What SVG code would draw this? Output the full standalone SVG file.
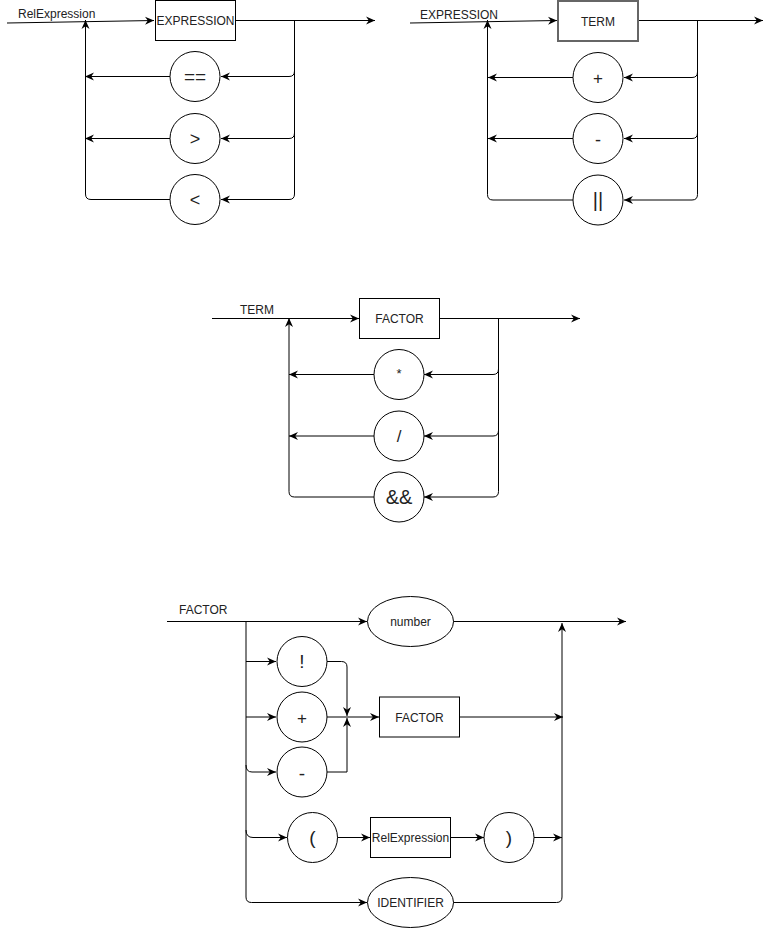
<svg xmlns="http://www.w3.org/2000/svg" width="773" height="928" viewBox="0 0 773 928">
  <style>
    .bg { fill: #ffffff; }
    .box { fill: #ffffff; stroke: #000000; stroke-width: 1; }
    .box-grey { fill: #ffffff; stroke: #666666; stroke-width: 2; }
    .term { fill: #ffffff; stroke: #000000; stroke-width: 1; }
    .wire { fill: none; stroke: #000000; stroke-width: 1; }
    .lbl { font-family: "Liberation Sans", Arial, sans-serif; font-size: 12px; fill: #222222; }
    .mid { text-anchor: middle; }
    .sym { font-family: "Liberation Sans", Arial, sans-serif; fill: #222222; text-anchor: middle; }
  </style>
  <defs>
    <marker id="arrow" viewBox="0 0 9 9" refX="9" refY="4.5" markerWidth="9" markerHeight="9" markerUnits="userSpaceOnUse" orient="auto">
      <path d="M0,0.5 L9,4.5 L0,8.5 L2.8,4.5 z" fill="#000000"/>
    </marker>
  </defs>
  <rect class="bg" x="0" y="0" width="773" height="928"/>

  <!-- ===== RelExpression rule ===== -->
  <g id="rel-connectors">
    <path class="wire" d="M7,23 L154,20.5" marker-end="url(#arrow)"/>
    <path class="wire" d="M235,20.5 L375,20.5" marker-end="url(#arrow)"/>
    <path class="wire" d="M294.5,20.5 L294.5,71 Q294.5,76.5 289,76.5 L221,76.5" marker-end="url(#arrow)"/>
    <path class="wire" d="M294.5,20.5 L294.5,133 Q294.5,138.5 289,138.5 L221,138.5" marker-end="url(#arrow)"/>
    <path class="wire" d="M294.5,20.5 L294.5,194 Q294.5,199.5 289,199.5 L221,199.5" marker-end="url(#arrow)"/>
    <path class="wire" d="M170,76.5 L85,76.5" marker-end="url(#arrow)"/>
    <path class="wire" d="M170,138.5 L85,138.5" marker-end="url(#arrow)"/>
    <path class="wire" d="M170,199.5 L91,199.5 Q85.5,199.5 85.5,194 L85.5,20" marker-end="url(#arrow)"/>
  </g>
  <text class="lbl" x="18" y="18">RelExpression</text>
  <g id="rel-expression">
    <rect class="box" x="155.5" y="0.5" width="80" height="40"/>
    <text class="lbl mid" x="195.5" y="25">EXPRESSION</text>
  </g>
  <g id="rel-eq">
    <circle class="term" cx="195" cy="76.5" r="25"/>
    <text class="sym" x="195" y="83" font-size="19">==</text>
  </g>
  <g id="rel-gt">
    <circle class="term" cx="195" cy="138.5" r="25"/>
    <text class="sym" x="195" y="145" font-size="18">&gt;</text>
  </g>
  <g id="rel-lt">
    <circle class="term" cx="195" cy="199.5" r="25"/>
    <text class="sym" x="195" y="206" font-size="18">&lt;</text>
  </g>

  <!-- ===== EXPRESSION rule ===== -->
  <g id="expr-connectors">
    <path class="wire" d="M410,23 L557,20.5" marker-end="url(#arrow)"/>
    <path class="wire" d="M638,20.5 L763,20.5" marker-end="url(#arrow)"/>
    <path class="wire" d="M697.5,20.5 L697.5,72 Q697.5,77.5 692,77.5 L624,77.5" marker-end="url(#arrow)"/>
    <path class="wire" d="M697.5,20.5 L697.5,133 Q697.5,138.5 692,138.5 L624,138.5" marker-end="url(#arrow)"/>
    <path class="wire" d="M697.5,20.5 L697.5,194.5 Q697.5,200 692,200 L624,200" marker-end="url(#arrow)"/>
    <path class="wire" d="M573,77.5 L488,77.5" marker-end="url(#arrow)"/>
    <path class="wire" d="M573,138.5 L488,138.5" marker-end="url(#arrow)"/>
    <path class="wire" d="M573,200 L493,200 Q487.5,200 487.5,194.5 L487.5,20" marker-end="url(#arrow)"/>
  </g>
  <text class="lbl" x="420" y="19">EXPRESSION</text>
  <g id="expr-term">
    <rect class="box-grey" x="558" y="1" width="80" height="40"/>
    <text class="lbl mid" x="598" y="26">TERM</text>
  </g>
  <g id="expr-plus">
    <circle class="term" cx="598" cy="77.5" r="25"/>
    <text class="sym" x="598" y="84" font-size="17">+</text>
  </g>
  <g id="expr-minus">
    <circle class="term" cx="598" cy="138.5" r="25"/>
    <text class="sym" x="598" y="146" font-size="18">-</text>
  </g>
  <g id="expr-or">
    <circle class="term" cx="598" cy="200" r="25"/>
    <text class="sym" x="598" y="207" font-size="20">||</text>
  </g>

  <!-- ===== TERM rule ===== -->
  <g id="term-connectors">
    <path class="wire" d="M212,318.5 L359,318.5" marker-end="url(#arrow)"/>
    <path class="wire" d="M440,318.5 L580,318.5" marker-end="url(#arrow)"/>
    <path class="wire" d="M498.5,318.5 L498.5,369 Q498.5,374.5 493,374.5 L424,374.5" marker-end="url(#arrow)"/>
    <path class="wire" d="M498.5,318.5 L498.5,430.5 Q498.5,436 493,436 L424,436" marker-end="url(#arrow)"/>
    <path class="wire" d="M498.5,318.5 L498.5,491.5 Q498.5,497 493,497 L424,497" marker-end="url(#arrow)"/>
    <path class="wire" d="M374,374.5 L289,374.5" marker-end="url(#arrow)"/>
    <path class="wire" d="M374,436 L289,436" marker-end="url(#arrow)"/>
    <path class="wire" d="M374,497 L294.5,497 Q289,497 289,491.5 L289,318" marker-end="url(#arrow)"/>
  </g>
  <text class="lbl" x="240" y="314">TERM</text>
  <g id="term-factor">
    <rect class="box" x="359.5" y="298.5" width="80" height="40"/>
    <text class="lbl mid" x="399.5" y="323">FACTOR</text>
  </g>
  <g id="term-mul">
    <circle class="term" cx="399" cy="374.5" r="25"/>
    <text class="sym" x="399" y="378" font-size="13">*</text>
  </g>
  <g id="term-div">
    <circle class="term" cx="399" cy="436" r="25"/>
    <text class="sym" x="399" y="442" font-size="17">/</text>
  </g>
  <g id="term-and">
    <circle class="term" cx="399" cy="497" r="25"/>
    <text class="sym" x="399" y="504" font-size="20">&amp;&amp;</text>
  </g>

  <!-- ===== FACTOR rule ===== -->
  <g id="factor-connectors">
    <path class="wire" d="M167,621.5 L367,621.5" marker-end="url(#arrow)"/>
    <path class="wire" d="M453,621.5 L626,621.5" marker-end="url(#arrow)"/>
    <path class="wire" d="M246,621.5 L246,897 Q246,902.5 251.5,902.5 L367,902.5" marker-end="url(#arrow)"/>
    <path class="wire" d="M246,661.5 L276,661.5" marker-end="url(#arrow)"/>
    <path class="wire" d="M246,717 L276,717" marker-end="url(#arrow)"/>
    <path class="wire" d="M246,765 Q246,772 252,772 L276,772" marker-end="url(#arrow)"/>
    <path class="wire" d="M246,830 Q246,837.5 253,837.5 L287,837.5" marker-end="url(#arrow)"/>
    <path class="wire" d="M327,661.5 L341.5,661.5 Q347,661.5 347,667 L347,716" marker-end="url(#arrow)"/>
    <path class="wire" d="M327,772 L347,772 L347,718" marker-end="url(#arrow)"/>
    <path class="wire" d="M327,717 L379,717" marker-end="url(#arrow)"/>
    <path class="wire" d="M459,717 L563,717" marker-end="url(#arrow)"/>
    <path class="wire" d="M337,837.5 L370,837.5" marker-end="url(#arrow)"/>
    <path class="wire" d="M450,837.5 L484,837.5" marker-end="url(#arrow)"/>
    <path class="wire" d="M534,837.5 L562,837.5" marker-end="url(#arrow)"/>
    <path class="wire" d="M453,902.5 L556.5,902.5 Q562,902.5 562,897 L562,623" marker-end="url(#arrow)"/>
  </g>
  <text class="lbl" x="179" y="614">FACTOR</text>
  <g id="factor-number">
    <ellipse class="term" cx="410.5" cy="621.5" rx="43" ry="25"/>
    <text class="sym" x="410.5" y="626" font-size="12">number</text>
  </g>
  <g id="factor-not">
    <circle class="term" cx="302" cy="661.5" r="25"/>
    <text class="sym" x="302" y="668" font-size="19">!</text>
  </g>
  <g id="factor-plus">
    <circle class="term" cx="302" cy="717" r="25"/>
    <text class="sym" x="302" y="723.5" font-size="17">+</text>
  </g>
  <g id="factor-minus">
    <circle class="term" cx="302" cy="772" r="25"/>
    <text class="sym" x="302" y="780" font-size="19">-</text>
  </g>
  <g id="factor-factor">
    <rect class="box" x="379.5" y="697" width="80" height="40"/>
    <text class="lbl mid" x="419.5" y="721.5">FACTOR</text>
  </g>
  <g id="factor-lparen">
    <circle class="term" cx="312.5" cy="837.5" r="25"/>
    <text class="sym" x="312.5" y="844" font-size="19">(</text>
  </g>
  <g id="factor-relexpression">
    <rect class="box" x="370.5" y="817.5" width="80" height="40"/>
    <text class="lbl mid" x="410.5" y="842">RelExpression</text>
  </g>
  <g id="factor-rparen">
    <circle class="term" cx="509" cy="837.5" r="25"/>
    <text class="sym" x="509" y="844" font-size="19">)</text>
  </g>
  <g id="factor-identifier">
    <ellipse class="term" cx="410.5" cy="902.5" rx="43" ry="25"/>
    <text class="sym" x="410.5" y="907" font-size="12">IDENTIFIER</text>
  </g>
</svg>
